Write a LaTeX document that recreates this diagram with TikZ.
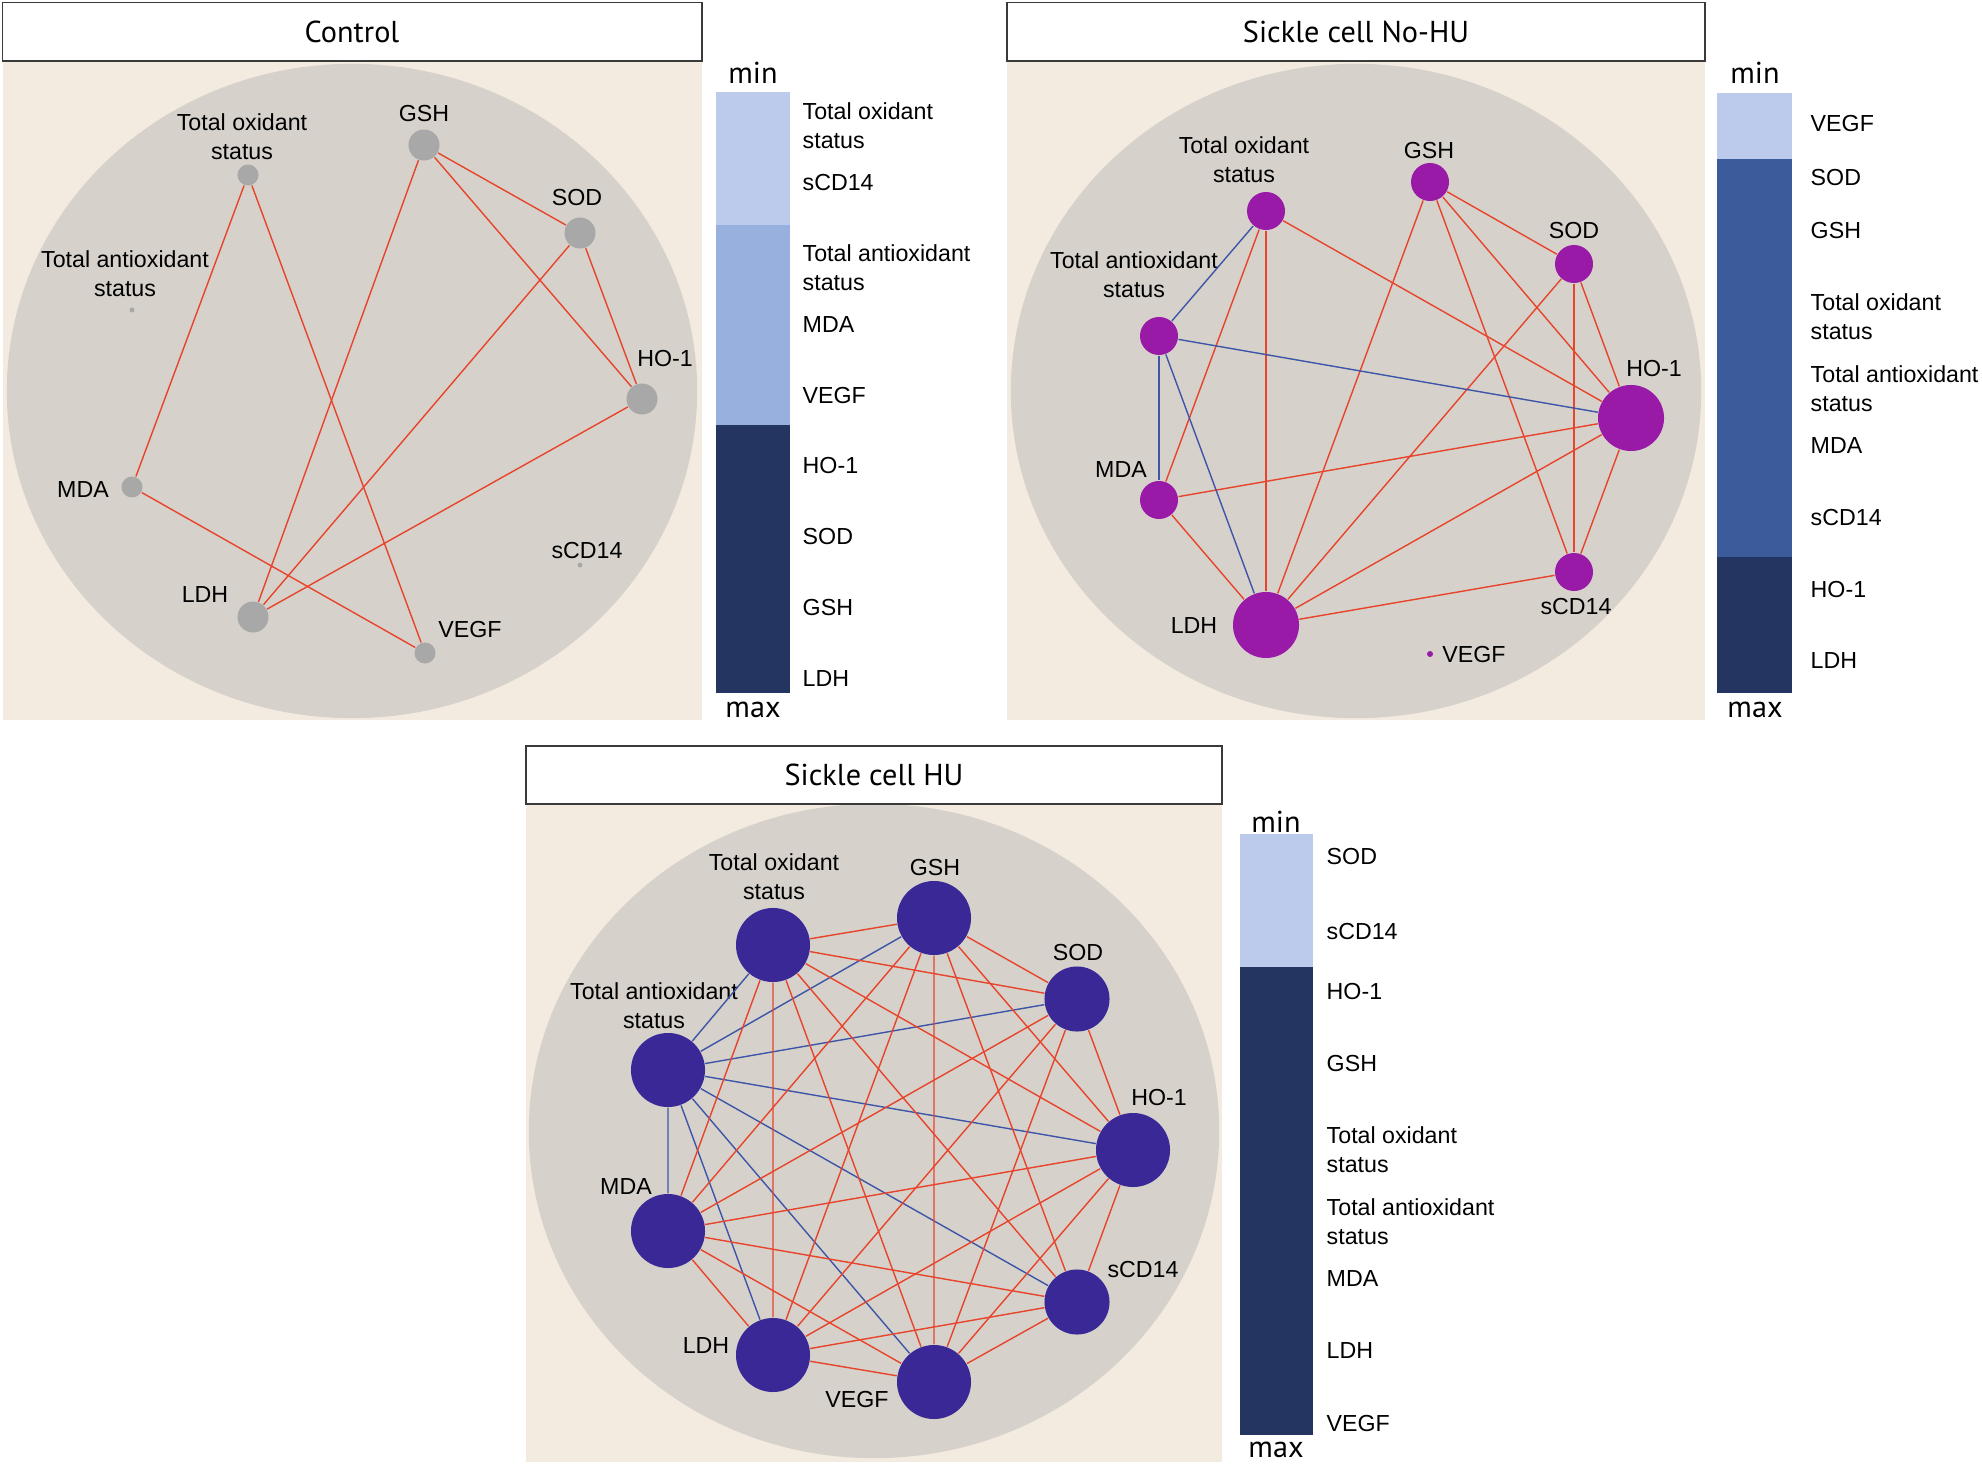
\documentclass[tikz,border=0pt]{standalone}
\usepackage{fontspec}
\setmainfont{Liberation Sans}
\newfontfamily\titlefont{PT Sans}
\usepackage{tikz}
\definecolor{panelbeige}{HTML}{F3EBE0}
\definecolor{ringgray}{HTML}{D6D2CB}
\definecolor{ctrlgray}{HTML}{A8A8A8}
\definecolor{nohupurple}{HTML}{9A1AA8}
\definecolor{huindigo}{HTML}{3A2896}
\definecolor{posred}{HTML}{E8442C}
\definecolor{negblue}{HTML}{3F55A8}
\definecolor{barlight}{HTML}{BCCBEB}
\definecolor{barmid}{HTML}{98B0DE}
\definecolor{barstrong}{HTML}{3B5B9B}
\definecolor{bardark}{HTML}{233560}
\definecolor{framegray}{HTML}{3A3A3A}
\tikzset{
	titlebox/.style={rectangle,draw=framegray,line width=0.45pt,fill=white,inner sep=0pt,font=\titlefont\fontsize{8.6}{10}\selectfont},
	ctrlstyle/.style={circle,fill=ctrlgray,inner sep=0pt},
	nohustyle/.style={circle,fill=nohupurple,inner sep=0pt},
	hustyle/.style={circle,fill=huindigo,inner sep=0pt},
	lblstyle/.style={inner sep=0pt,align=center,font=\fontsize{6.6}{8.2}\selectfont},
	barlblstyle/.style={inner sep=0pt,anchor=west,align=left,font=\fontsize{6.6}{8.2}\selectfont},
	endstyle/.style={inner sep=0pt,font=\titlefont\fontsize{8.6}{10}\selectfont},
	posedge/.style={draw=posred,line width=0.4pt},
	negedge/.style={draw=negblue,line width=0.4pt}
}
\begin{document}
\begin{tikzpicture}[x=0.01cm,y=-0.01cm]
	\normalsize
	\useasboundingbox (0,0) rectangle (1982,1470);
	\fill[panelbeige] (2.5,61) rectangle (701.5,720);
	\fill[panelbeige] (1007,61) rectangle (1705,720);
	\fill[panelbeige] (526,804) rectangle (1222,1462);
	\fill[ringgray] (352,391) ellipse [x radius=3.45cm,y radius=3.27cm];
	\fill[ringgray] (1356,391) ellipse [x radius=3.45cm,y radius=3.27cm];
	\fill[ringgray] (874,1131) ellipse [x radius=3.45cm,y radius=3.27cm];
	\node[titlebox,minimum width=6.99cm,minimum height=0.585cm] (ctitle) at (352,31.75) {Control};
	\node[titlebox,minimum width=6.98cm,minimum height=0.585cm] (ntitle) at (1356,31.75) {Sickle cell No-HU};
	\node[titlebox,minimum width=6.96cm,minimum height=0.58cm] (htitle) at (874,775) {Sickle cell HU};

	\node[ctrlstyle,minimum size=0.21cm] (ctos) at (248,175) {};
	\node[ctrlstyle,minimum size=0.31cm] (cgsh) at (424,145) {};
	\node[ctrlstyle,minimum size=0.31cm] (csod) at (580,233) {};
	\node[ctrlstyle,minimum size=0.31cm] (cho) at (642,399) {};
	\node[ctrlstyle,minimum size=0.05cm] (ctas) at (132,310) {};
	\node[ctrlstyle,minimum size=0.21cm] (cmda) at (132,487) {};
	\node[ctrlstyle,minimum size=0.31cm] (cldh) at (253,617) {};
	\node[ctrlstyle,minimum size=0.21cm] (cvegf) at (425,653) {};
	\node[ctrlstyle,minimum size=0.05cm] (cscd) at (580,565) {};
	\node[lblstyle] (cltos) at (242,137) {Total oxidant\\status};
	\node[lblstyle] (clgsh) at (424,114) {GSH};
	\node[lblstyle] (clsod) at (577,198) {SOD};
	\node[lblstyle] (clho) at (665,359) {HO-1};
	\node[lblstyle] (cltas) at (125,274) {Total antioxidant\\status};
	\node[lblstyle] (clmda) at (83,490) {MDA};
	\node[lblstyle] (clldh) at (205,595) {LDH};
	\node[lblstyle] (clvegf) at (470,630) {VEGF};
	\node[lblstyle] (clscd) at (587,551) {sCD14};
	\draw[posedge] (ctos)--(cmda);
	\draw[posedge] (ctos)--(cvegf);
	\draw[posedge] (cgsh)--(csod);
	\draw[posedge] (cgsh)--(cho);
	\draw[posedge] (cgsh)--(cldh);
	\draw[posedge] (csod)--(cho);
	\draw[posedge] (csod)--(cldh);
	\draw[posedge] (cho)--(cldh);
	\draw[posedge] (cmda)--(cvegf);

	\node[nohustyle,minimum size=0.38cm] (ntos) at (1266,211) {};
	\node[nohustyle,minimum size=0.38cm] (ngsh) at (1430,182) {};
	\node[nohustyle,minimum size=0.38cm] (nsod) at (1574,264) {};
	\node[nohustyle,minimum size=0.38cm] (ntas) at (1159,336) {};
	\node[nohustyle,minimum size=0.66cm] (nho) at (1631,418) {};
	\node[nohustyle,minimum size=0.38cm] (nmda) at (1159,500) {};
	\node[nohustyle,minimum size=0.38cm] (nscd) at (1574,572) {};
	\node[nohustyle,minimum size=0.66cm] (nldh) at (1266,625) {};
	\node[nohustyle,minimum size=0.06cm] (nvegf) at (1430,654) {};
	\node[lblstyle] (nltos) at (1244,160) {Total oxidant\\status};
	\node[lblstyle] (nlgsh) at (1429,151) {GSH};
	\node[lblstyle] (nlsod) at (1574,231) {SOD};
	\node[lblstyle] (nltas) at (1134,275) {Total antioxidant\\status};
	\node[lblstyle] (nlho) at (1654,369) {HO-1};
	\node[lblstyle] (nlmda) at (1121,470) {MDA};
	\node[lblstyle] (nlscd) at (1576,607) {sCD14};
	\node[lblstyle] (nlldh) at (1194,626) {LDH};
	\node[lblstyle] (nlvegf) at (1474,655) {VEGF};
	\draw[posedge] (ntos)--(nho);
	\draw[posedge] (ntos)--(nmda);
	\draw[posedge] (ntos)--(nldh);
	\draw[posedge] (ngsh)--(nsod);
	\draw[posedge] (ngsh)--(nho);
	\draw[posedge] (ngsh)--(nscd);
	\draw[posedge] (ngsh)--(nldh);
	\draw[posedge] (nsod)--(nho);
	\draw[posedge] (nsod)--(nscd);
	\draw[posedge] (nsod)--(nldh);
	\draw[posedge] (nho)--(nmda);
	\draw[posedge] (nho)--(nldh);
	\draw[posedge] (nho)--(nscd);
	\draw[posedge] (nmda)--(nldh);
	\draw[posedge] (nldh)--(nscd);
	\draw[negedge] (ntos)--(ntas);
	\draw[negedge] (ntas)--(nho);
	\draw[negedge] (ntas)--(nmda);
	\draw[negedge] (ntas)--(nldh);

	\node[hustyle,minimum size=0.74cm] (htos) at (773,945) {};
	\node[hustyle,minimum size=0.74cm] (hgsh) at (934,918) {};
	\node[hustyle,minimum size=0.65cm] (hsod) at (1077,999) {};
	\node[hustyle,minimum size=0.74cm] (htas) at (668,1070) {};
	\node[hustyle,minimum size=0.74cm] (hho) at (1133,1150) {};
	\node[hustyle,minimum size=0.74cm] (hmda) at (668,1231) {};
	\node[hustyle,minimum size=0.65cm] (hscd) at (1077,1302) {};
	\node[hustyle,minimum size=0.74cm] (hldh) at (773,1355) {};
	\node[hustyle,minimum size=0.74cm] (hvegf) at (934,1382) {};
	\node[lblstyle] (hltos) at (774,877) {Total oxidant\\status};
	\node[lblstyle] (hlgsh) at (935,868) {GSH};
	\node[lblstyle] (hlsod) at (1078,953) {SOD};
	\node[lblstyle] (hltas) at (654,1006) {Total antioxidant\\status};
	\node[lblstyle] (hlho) at (1159,1098) {HO-1};
	\node[lblstyle] (hlmda) at (626,1187) {MDA};
	\node[lblstyle] (hlscd) at (1143,1269) {sCD14};
	\node[lblstyle] (hlldh) at (706,1346) {LDH};
	\node[lblstyle] (hlvegf) at (857,1399) {VEGF};
	\draw[negedge] (htas)--(htos) (htas)--(hgsh) (htas)--(hsod) (htas)--(hho);
	\draw[negedge] (htas)--(hmda) (htas)--(hldh) (htas)--(hvegf) (htas)--(hscd);
	\draw[posedge] (htos)--(hgsh) (htos)--(hsod) (htos)--(hho) (htos)--(hscd);
	\draw[posedge] (htos)--(hvegf) (htos)--(hldh) (htos)--(hmda);
	\draw[posedge] (hgsh)--(hsod) (hgsh)--(hho) (hgsh)--(hscd);
	\draw[posedge] (hgsh)--(hvegf) (hgsh)--(hldh) (hgsh)--(hmda);
	\draw[posedge] (hsod)--(hho) (hsod)--(hvegf) (hsod)--(hldh) (hsod)--(hmda);
	\draw[posedge] (hho)--(hscd) (hho)--(hvegf) (hho)--(hldh) (hho)--(hmda);
	\draw[posedge] (hscd)--(hvegf) (hscd)--(hldh) (hscd)--(hmda);
	\draw[posedge] (hvegf)--(hldh) (hvegf)--(hmda);
	\draw[posedge] (hldh)--(hmda);

	\fill[barlight] (716,92) rectangle (790,225);
	\fill[barmid] (716,225) rectangle (790,425);
	\fill[bardark] (716,425) rectangle (790,693);
	\node[endstyle] (cmin) at (753,73) {min};
	\node[endstyle] (cmax) at (753,710) {max};
	\node[barlblstyle] (cb1) at (802,126) {Total oxidant\\status};
	\node[barlblstyle] (cb2) at (802,183) {sCD14};
	\node[barlblstyle] (cb3) at (802,268) {Total antioxidant\\status};
	\node[barlblstyle] (cb4) at (802,325) {MDA};
	\node[barlblstyle] (cb5) at (802,396) {VEGF};
	\node[barlblstyle] (cb6) at (802,466) {HO-1};
	\node[barlblstyle] (cb7) at (802,537) {SOD};
	\node[barlblstyle] (cb8) at (802,608) {GSH};
	\node[barlblstyle] (cb9) at (802,679) {LDH};

	\fill[barlight] (1717,93) rectangle (1792,159);
	\fill[barstrong] (1717,159) rectangle (1792,557);
	\fill[bardark] (1717,557) rectangle (1792,693);
	\node[endstyle] (nmin) at (1755,73) {min};
	\node[endstyle] (nmax) at (1755,710) {max};
	\node[barlblstyle] (nb1) at (1810,124) {VEGF};
	\node[barlblstyle] (nb2) at (1810,178) {SOD};
	\node[barlblstyle] (nb3) at (1810,231) {GSH};
	\node[barlblstyle] (nb4) at (1810,317) {Total oxidant\\status};
	\node[barlblstyle] (nb5) at (1810,389) {Total antioxidant\\status};
	\node[barlblstyle] (nb6) at (1810,446) {MDA};
	\node[barlblstyle] (nb7) at (1810,518) {sCD14};
	\node[barlblstyle] (nb8) at (1810,590) {HO-1};
	\node[barlblstyle] (nb9) at (1810,661) {LDH};

	\fill[barlight] (1240,834) rectangle (1313,967);
	\fill[bardark] (1240,967) rectangle (1313,1435);
	\node[endstyle] (hmin) at (1276,822) {min};
	\node[endstyle] (hmax) at (1276,1450) {max};
	\node[barlblstyle] (hb1) at (1326,857) {SOD};
	\node[barlblstyle] (hb2) at (1326,932) {sCD14};
	\node[barlblstyle] (hb3) at (1326,992) {HO-1};
	\node[barlblstyle] (hb4) at (1326,1064) {GSH};
	\node[barlblstyle] (hb5) at (1326,1150) {Total oxidant\\status};
	\node[barlblstyle] (hb6) at (1326,1222) {Total antioxidant\\status};
	\node[barlblstyle] (hb7) at (1326,1279) {MDA};
	\node[barlblstyle] (hb8) at (1326,1351) {LDH};
	\node[barlblstyle] (hb9) at (1326,1423) {VEGF};
\end{tikzpicture}
\end{document}
